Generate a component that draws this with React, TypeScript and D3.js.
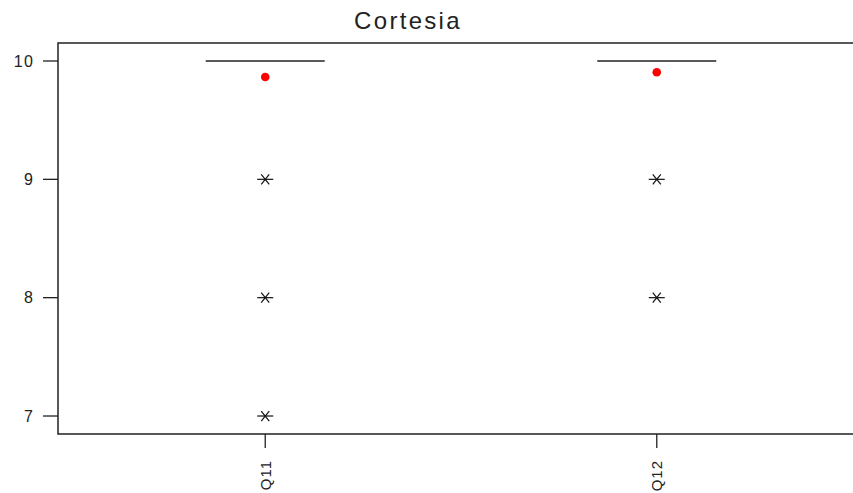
import React from "react";
import * as d3 from "d3";

// Survey items and their summary statistics
const categories = ["Q11", "Q12"];
const q1Values = [10, 10];
const medianValues = [10, 10];
const q3Values = [10, 10];
const meanValues = [9.865, 9.905];
const outliersQ11 = [9, 8, 7];
const outliersQ12 = [9, 8];
const outlierSets = [outliersQ11, outliersQ12];
const yTicks = [7, 8, 9, 10];
const title = "Cortesia";

const W = 853;
const H = 493;
const left = 58;
const top = 43;
const bottom = 434;
const right = 864;

export default function App() {
  const y = d3.scaleLinear().domain([6.848, 10.152]).range([bottom, top]);
  const x = d3
    .scalePoint<string>()
    .domain(categories)
    .range([left, right])
    .padding(0.5293);
  const boxHalf = 59.5;
  const font = "'Liberation Sans', Arial, sans-serif";

  const asterisk = (cx: number, cy: number, key: string) => (
    <g key={key} stroke="#111" strokeWidth={1.2}>
      <line x1={cx - 8} x2={cx + 8} y1={cy} y2={cy} />
      <line x1={cx - 4} x2={cx + 4} y1={cy - 5} y2={cy + 5} />
      <line x1={cx - 4} x2={cx + 4} y1={cy + 5} y2={cy - 5} />
    </g>
  );

  return (
    <svg
      width={W}
      height={H}
      style={{ position: "absolute", left: 0, top: 0, background: "#fff" }}
      fontFamily={font}
    >
      <text
        x={408}
        y={29}
        textAnchor="middle"
        fontSize={24}
        letterSpacing={2.3}
        fill="#222"
      >
        {title}
      </text>

      {/* frame */}
      <path
        d={`M${right},${top}H${left}V${bottom}H${right}`}
        fill="none"
        stroke="#222"
        strokeWidth={1.5}
      />

      {/* y axis */}
      {yTicks.map((t) => (
        <g key={t}>
          <line x1={left - 15} x2={left} y1={y(t)} y2={y(t)} stroke="#222" strokeWidth={1.3} />
          <text
            x={34}
            y={y(t)}
            dy="0.36em"
            textAnchor="end"
            fontSize={16}
            letterSpacing={1.2}
            fill="#222"
          >
            {t}
          </text>
        </g>
      ))}

      {/* x axis */}
      {categories.map((c) => {
        const cx = x(c)!;
        return (
          <g key={c}>
            <line x1={cx} x2={cx} y1={bottom} y2={bottom + 14} stroke="#222" strokeWidth={1.3} />
            <text
              transform={`translate(${cx},${bottom + 26}) rotate(-90)`}
              dy="0.36em"
              textAnchor="end"
              fontSize={15}
              letterSpacing={1}
              fill="#222"
            >
              {c}
            </text>
          </g>
        );
      })}

      {/* boxes */}
      {categories.map((c, i) => {
        const cx = x(c)!;
        const yq1 = y(q1Values[i]);
        const yq3 = y(q3Values[i]);
        return (
          <g key={c}>
            <rect
              x={cx - boxHalf}
              y={Math.min(yq1, yq3)}
              width={boxHalf * 2}
              height={Math.abs(yq1 - yq3)}
              fill="none"
              stroke="#222"
              strokeWidth={1.3}
            />
            <line
              x1={cx - boxHalf}
              x2={cx + boxHalf}
              y1={y(medianValues[i])}
              y2={y(medianValues[i])}
              stroke="#222"
              strokeWidth={1.5}
            />
            {outlierSets[i].map((v, j) => asterisk(cx, y(v), `${c}-${j}`))}
            <circle cx={cx} cy={y(meanValues[i])} r={4.3} fill="#f00" />
          </g>
        );
      })}
    </svg>
  );
}
